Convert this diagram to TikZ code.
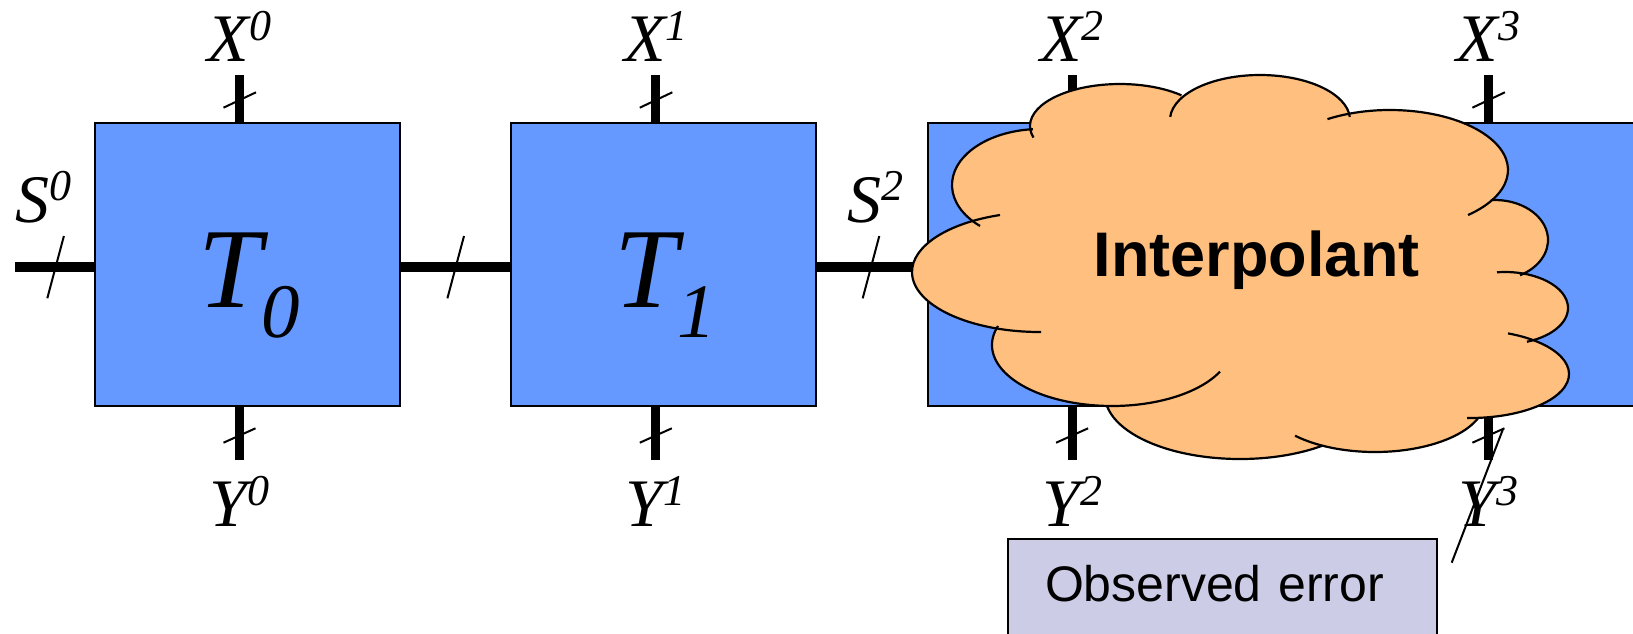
\documentclass[tikz,border=0pt]{standalone}
\usepackage{fontspec}
\setmainfont{Liberation Serif}
\newfontfamily\arialfont{Liberation Sans}
\usetikzlibrary{positioning, calc}

\definecolor{BoxBlue}{HTML}{6699FF}
\definecolor{CloudOrange}{HTML}{FFBF7F}
\definecolor{ErrLilac}{HTML}{CCCCE6}

\newcommand{\varlab}[2]{{\fontsize{68}{68}\selectfont\itshape #1\raisebox{21.7pt}{\fontsize{44}{44}\selectfont #2}}}
\newcommand{\tranlab}[1]{{\fontsize{114}{114}\selectfont\itshape T\raisebox{-30pt}{\fontsize{77}{77}\selectfont #1}}}

\begin{document}
\begin{tikzpicture}[x=1pt, y=-1pt,
  blk/.style={draw, line width=2pt, fill=BoxBlue, minimum width=305pt, minimum height=283pt, inner sep=0pt},
  bus/.style={line width=10pt},
  stub/.style={line width=9pt},
  tick/.style={line width=2pt},
  lab/.style={anchor=base, inner sep=0pt},
  cloudline/.style={line width=2.2pt}]
  \useasboundingbox (0,0) rectangle (1633,633);

  % Blocks
  \foreach \i in {0,...,3}
    \node[blk] (t\i) at ({247.5+416.3*\i},264) {};
  \node[lab] (tl0) at (249,307.3) {\tranlab{0}};
  \node[lab] (tl1) at (665,307.3) {\tranlab{1}};

  % State bus
  \coordinate (sin) at (15,267);
  \draw[bus] (sin) -- (sin -| t0.west);
  \draw[bus] (t0.east |- sin) -- (t1.west |- sin);
  \draw[bus] (t1.east |- sin) -- (t2.west |- sin);
  \foreach \sx in {55.6, 455.7, 871}
    \draw[tick] ({\sx-8.3},298.3) -- ({\sx+8.3},236);
  \node[lab] (s0) at (44,222) {\varlab{S}{0}};
  \node[lab] (s2) at (875,222) {\varlab{S}{2}};

  % Inputs and outputs
  \foreach \i in {0,...,3} {
    \coordinate (xt\i) at ({239.5+416.3*\i},75);
    \coordinate (yb\i) at ({239.5+416.3*\i},460);
    \draw[stub] (xt\i) -- (xt\i |- t\i.north);
    \draw[stub] (yb\i) -- (yb\i |- t\i.south);
    \draw[tick] ($(xt\i)+(-16,32.7)$) -- ++(32.5,-15.4);
    \draw[tick] ($(yb\i)+(-16,-17.3)$) -- ++(32,-14.4);
    \node[lab] (xl\i) at ($(xt\i)+(0,-13.3)$) {\varlab{X}{\i}};
    \node[lab] (yl\i) at ($(yb\i)+(0,66.7)$) {\varlab{Y}{\i}};
  }

  % Cloud: lobes are elliptic arcs (centre x/y, radii, angles)
  \fill[CloudOrange] ({1040+88*cos(140.6)},{185+56*sin(140.6)})
    foreach \cx/\cy/\rx/\ry/\a/\b in {1040/185/88/56/140.6/265.4, 1120/126/90/42/178/313,
        1260/120/90/45/212.7/352, 1390/170/118/60/249.5/392, 1495/240/53/40/265.4/421.8,
        1505/308/63/36/283.8/429.6, 1470/374/99/44/305.2/445.4, 1375/400/110/52/20.6/120,
        1240/395/135/64/52.6/170, 1112/345/120/61/92/198.2, 1040/272/128/60/109.2/238}
      { -- ({\cx+\rx*cos(\a)},{\cy+\ry*sin(\a)})
        arc[start angle=\a, end angle=\b, x radius=\rx, y radius=\ry] }
    -- cycle;
  \foreach \cx/\cy/\rx/\ry/\a/\b in {1040/185/88/56/133/265.4, 1120/126/90/42/164/313,
      1260/120/90/45/184/356, 1390/170/118/60/238/408.6, 1495/240/53/40/265.4/421.8,
      1505/308/63/36/262.7/429.6, 1470/374/99/44/292.6/451.7, 1375/400/110/52/20.6/136.6,
      1240/395/135/64/52.6/170, 1112/345/120/61/198.2/25.8, 1040/272/128/60/89.5/251.8}
    \draw[cloudline] ({\cx+\rx*cos(\a)},{\cy+\ry*sin(\a)})
      arc[start angle=\a, end angle=\b, x radius=\rx, y radius=\ry];
  \node[lab, font=\arialfont\bfseries\fontsize{63}{63}\selectfont] (interp) at (1256.7,276.7) {Interpolant};

  % Stray tick through Y3
  \draw[tick] (1451.7,562.7) -- (1503.3,428.3);

  % Observed error
  \node[draw, line width=2pt, fill=ErrLilac, anchor=north west, outer sep=0pt,
        font=\arialfont\fontsize{50}{50}\selectfont, text width=355pt, align=left,
        inner xsep=36.7pt, inner ysep=0pt, text height=62.4pt, text depth=60pt]
    (obs) at (1008.3,539.3) {Observed error};
\end{tikzpicture}
\end{document}
